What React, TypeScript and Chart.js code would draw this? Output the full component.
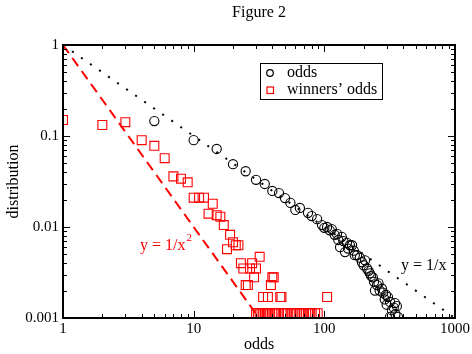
import React, { useEffect, useRef } from "react";
import { Chart, registerables } from "chart.js";

Chart.register(...registerables);

// ---- data ----
const oddsX = [5, 10, 15, 20, 25, 30, 35, 40, 45, 50, 55, 60, 65, 75, 80, 88, 96, 100, 105, 110, 114, 120, 125, 128, 132, 136, 140, 144, 149, 152, 157, 163, 168, 171, 178, 187, 194, 200, 205, 212, 218, 223, 228, 235, 240, 244, 253, 260, 265, 276, 281, 290, 296, 300, 307, 318, 329, 318, 340, 347, 350, 359, 366];
const oddsY = [0.146, 0.09, 0.072, 0.049, 0.041, 0.033, 0.0297, 0.0249, 0.0236, 0.0208, 0.0184, 0.0154, 0.0162, 0.0143, 0.0132, 0.0122, 0.0105, 0.0098, 0.01, 0.0092, 0.0095, 0.0082, 0.0084, 0.0072, 0.006, 0.0078, 0.007, 0.0053, 0.0067, 0.0058, 0.0063, 0.0063, 0.0055, 0.0049, 0.0049, 0.0046, 0.0041, 0.0038, 0.0043, 0.0035, 0.0033, 0.0031, 0.0029, 0.0028, 0.0025, 0.002, 0.0023, 0.0024, 0.002, 0.0021, 0.0019, 0.0016, 0.0018, 0.0014, 0.0017, 0.0015, 0.00122, 0.00103, 0.0013, 0.00146, 0.0011, 0.00135, 0.00103];

const winX = [1, 2, 3, 4, 5, 6, 7, 8, 9, 10, 11, 12, 14, 13, 15, 16, 17, 19, 20, 18, 21, 22, 32, 23, 28, 24, 27, 30, 29, 40, 41, 25, 26, 39, 34, 37, 46, 47, 105,
  30, 31, 32, 33, 34, 35, 36, 37, 38, 40, 42, 43, 45, 48, 50, 52, 55, 57, 60, 62, 65, 68, 70, 75, 78, 80, 85, 89];
const winY = [0.15, 0.132, 0.142, 0.09, 0.078, 0.057, 0.036, 0.034, 0.031, 0.021, 0.021, 0.021, 0.018, 0.014, 0.0135, 0.013, 0.0105, 0.0082, 0.0068, 0.0057, 0.0063, 0.0063, 0.0047, 0.004, 0.004, 0.0035, 0.0035, 0.0035, 0.0028, 0.0028, 0.0028, 0.0023, 0.0023, 0.0023, 0.0017, 0.0017, 0.0017, 0.0017, 0.0017,
  0.00113, 0.00113, 0.00113, 0.00113, 0.00113, 0.00113, 0.00113, 0.00113, 0.00113, 0.00113, 0.00113, 0.00113, 0.00113, 0.00113, 0.00113, 0.00113, 0.00113, 0.00113, 0.00113, 0.00113, 0.00113, 0.00113, 0.00113, 0.00113, 0.00113, 0.00113, 0.00113, 0.00113];

const invX = [1, 1000];
const invY = [1, 0.001];
const invSqX = [1, 31.62];
const invSqY = [1, 0.001];

const xTicks = [1, 10, 100, 1000];
const xTickLabels = ["1", "10", "100", "1000"];
const yTicks = [0.001, 0.01, 0.1, 1];
const yTickLabels = ["0.001", "0.01", "0.1", "1"];

const FONT = "'Liberation Serif', 'Times New Roman', serif";
const RED = "#ff0000";

const zip = (xs: number[], ys: number[]) => xs.map((x, i) => ({ x, y: ys[i] }));

const framePlugin = {
  id: "frameTicks",
  afterDraw(chart: any) {
    const { ctx, chartArea, scales } = chart;
    const { left, right, top, bottom } = chartArea;
    const xs = scales.x;
    const ys = scales.y;
    ctx.save();
    ctx.strokeStyle = "#000";
    ctx.lineWidth = 1;
    const drawX = (v: number, len: number) => {
      const p = Math.round(xs.getPixelForValue(v)) + 0.5;
      ctx.beginPath();
      ctx.moveTo(p, bottom);
      ctx.lineTo(p, bottom - len);
      ctx.moveTo(p, top);
      ctx.lineTo(p, top + len);
      ctx.stroke();
    };
    const drawY = (v: number, len: number) => {
      const p = Math.round(ys.getPixelForValue(v)) + 0.5;
      ctx.beginPath();
      ctx.moveTo(left, p);
      ctx.lineTo(left + len, p);
      ctx.moveTo(right, p);
      ctx.lineTo(right - len, p);
      ctx.stroke();
    };
    for (let d = 1; d < 1000; d *= 10) {
      for (let k = 2; k <= 9; k++) drawX(d * k, 4);
    }
    xTicks.forEach((v) => drawX(v, 7));
    for (let d = 0.001; d < 0.9; d *= 10) {
      for (let k = 2; k <= 9; k++) drawY(d * k, 4);
    }
    yTicks.forEach((v) => drawY(v, 7));
    ctx.lineWidth = 2;
    ctx.strokeRect(left, top, right - left, bottom - top);

    // legend
    const lx = left + 197;
    const ly = top + 18;
    ctx.lineWidth = 1;
    ctx.fillStyle = "#fff";
    ctx.fillRect(lx + 0.5, ly + 0.5, 122, 36);
    ctx.strokeStyle = "#000";
    ctx.strokeRect(lx + 0.5, ly + 0.5, 122, 36);
    ctx.beginPath();
    ctx.lineWidth = 1.2;
    ctx.arc(lx + 10, ly + 10, 3.3, 0, Math.PI * 2);
    ctx.stroke();
    ctx.strokeStyle = RED;
    ctx.lineWidth = 1.2;
    ctx.strokeRect(lx + 7, ly + 24, 6.5, 6.5);
    ctx.fillStyle = "#000";
    ctx.font = `16px ${FONT}`;
    ctx.textBaseline = "middle";
    ctx.textAlign = "left";
    ctx.fillText("odds", lx + 27, ly + 10);
    ctx.fillText("winners\u2019 odds", lx + 27, ly + 27);

    // annotations
    ctx.fillStyle = "#000";
    ctx.fillText("y = 1/x", left + 338, top + 221);
    ctx.fillStyle = RED;
    const t = "y = 1/x";
    ctx.fillText(t, left + 77, top + 201);
    const w = ctx.measureText(t).width;
    ctx.font = `11px ${FONT}`;
    ctx.fillText("2", left + 77 + w + 1, top + 193);
    ctx.restore();
  },
};

export default function App() {
  const ref = useRef<HTMLCanvasElement>(null);
  useEffect(() => {
    document.body.style.margin = "0";
    const canvas = ref.current!;
    const chart = new Chart(canvas, {
      type: "scatter",
      data: {
        datasets: [
          {
            label: "odds",
            data: zip(oddsX, oddsY),
            pointStyle: "circle",
            pointRadius: 4.6,
            borderColor: "#000",
            backgroundColor: "rgba(0,0,0,0)",
            borderWidth: 1.1,
            showLine: false,
          },
          {
            label: "winners\u2019 odds",
            data: zip(winX, winY),
            pointStyle: "rect",
            pointRadius: 6.3,
            borderColor: RED,
            backgroundColor: "rgba(0,0,0,0)",
            borderWidth: 1.1,
            showLine: false,
          },
          {
            label: "y = 1/x",
            data: zip(invX, invY),
            showLine: true,
            pointRadius: 0,
            borderColor: "#000",
            borderWidth: 2,
            borderDash: [2, 9],
            fill: false,
          },
          {
            label: "y = 1/x^2",
            data: zip(invSqX, invSqY),
            showLine: true,
            pointRadius: 0,
            borderColor: RED,
            borderWidth: 2,
            borderDash: [10, 6],
            fill: false,
          },
        ],
      },
      options: {
        animation: false,
        responsive: false,
        devicePixelRatio: 1,
        layout: { padding: { left: 0, right: 17, top: 0, bottom: 0 } },
        plugins: {
          legend: { display: false },
          tooltip: { enabled: false },
          title: {
            display: true,
            text: "Figure 2",
            fullSize: false,
            color: "#000",
            font: { family: FONT, size: 16, weight: "normal" },
            padding: { top: 3, bottom: 22.8 },
          },
        },
        scales: {
          x: {
            type: "logarithmic",
            position: "bottom",
            min: 1,
            max: 1000,
            grid: { display: false, drawTicks: false },
            border: { display: false },
            afterBuildTicks: (s: any) => {
              s.ticks = xTicks.map((v) => ({ value: v }));
            },
            afterFit: (s: any) => {
              s.height = 36;
            },
            ticks: {
              autoSkip: false,
              maxRotation: 0,
              padding: 2,
              color: "#000",
              font: { family: FONT, size: 15 },
              callback: (v: any) => {
                const i = xTicks.indexOf(Number(v));
                return i >= 0 ? xTickLabels[i] : "";
              },
            },
            title: {
              display: true,
              text: "odds",
              color: "#000",
              font: { family: FONT, size: 16 },
              padding: { top: 0, bottom: 0 },
            },
          },
          y: {
            type: "logarithmic",
            position: "left",
            min: 0.001,
            max: 1,
            grid: { display: false, drawTicks: false },
            border: { display: false },
            afterBuildTicks: (s: any) => {
              s.ticks = yTicks.map((v) => ({ value: v }));
            },
            afterFit: (s: any) => {
              s.width = 63;
            },
            ticks: {
              autoSkip: false,
              padding: 4,
              color: "#000",
              font: { family: FONT, size: 15 },
              callback: (v: any) => {
                const i = yTicks.findIndex((t) => Math.abs(t - Number(v)) / t < 1e-6);
                return i >= 0 ? yTickLabels[i] : "";
              },
            },
            title: {
              display: true,
              text: "distribution",
              color: "#000",
              font: { family: FONT, size: 16 },
              padding: { top: 4, bottom: 0 },
            },
          },
        },
      },
      plugins: [framePlugin],
    } as any);
    return () => chart.destroy();
  }, []);
  return (
    <div style={{ width: 472, height: 354 }}>
      <canvas ref={ref} width={472} height={354} style={{ display: "block" }} />
    </div>
  );
}
